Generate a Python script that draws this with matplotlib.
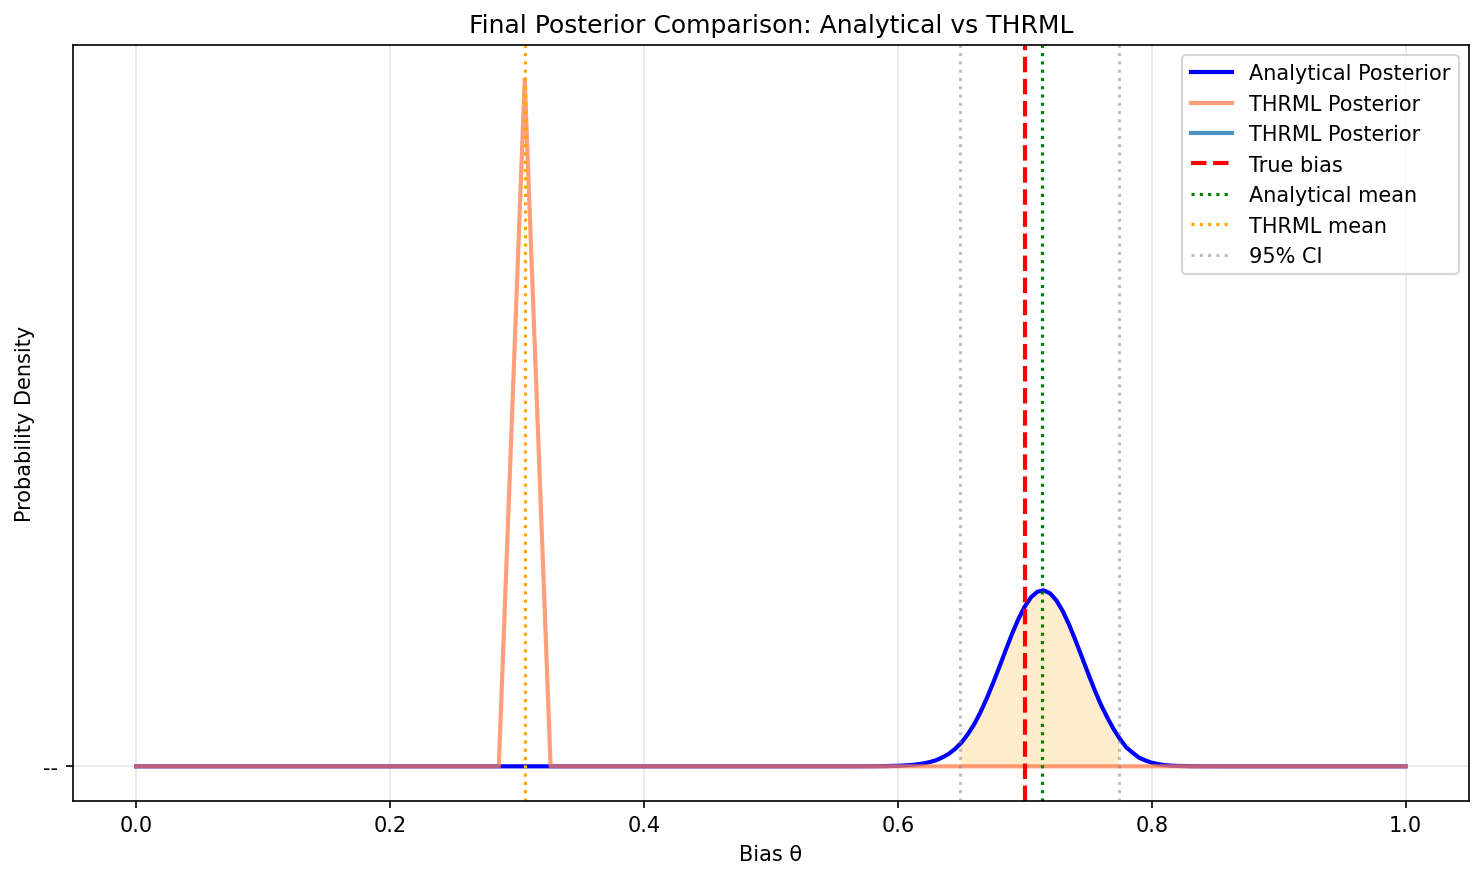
import numpy as np
import matplotlib
matplotlib.use("Agg")
import matplotlib.pyplot as plt

# ---- data ----
analytical_theta = [0.0, 0.55, 0.56, 0.57, 0.58, 0.59, 0.60, 0.605, 0.61, 0.615, 0.62, 0.625,
                    0.63, 0.635, 0.64, 0.645, 0.65, 0.655, 0.66, 0.665, 0.67, 0.675, 0.68,
                    0.685, 0.69, 0.695, 0.70, 0.705, 0.71, 0.715, 0.72, 0.725, 0.73, 0.735,
                    0.74, 0.745, 0.75, 0.755, 0.76, 0.765, 0.77, 0.775, 0.78, 0.785, 0.79,
                    0.795, 0.80, 0.805, 0.81, 0.815, 0.82, 0.83, 0.84, 0.85, 0.86, 1.0]
analytical_density = [0.0, 0.0, 0.001, 0.002, 0.005, 0.015, 0.04, 0.06, 0.09, 0.14, 0.20, 0.30,
                      0.43, 0.63, 0.88, 1.23, 1.68, 2.27, 2.97, 3.83, 4.83, 5.92, 7.08,
                      8.28, 9.44, 10.50, 11.39, 12.06, 12.45, 12.55, 12.33, 11.82, 11.06, 10.09,
                      8.98, 7.80, 6.61, 5.46, 4.40, 3.49, 2.66, 1.95, 1.35, 0.97, 0.62,
                      0.42, 0.26, 0.16, 0.09, 0.05, 0.03, 0.01, 0.003, 0.001, 0.0, 0.0]

thrml_theta = [0.0, 0.2857, 0.3061, 0.3265, 1.0]
thrml_density = [0.0, 0.0, 49.0, 0.0, 0.0]

true_bias = 0.70
analytical_mean = 0.7135
thrml_mean = 0.3061
ci_low, ci_high = 0.649, 0.774

# ---- figure ----
fig = plt.figure(figsize=(1484 / 150, 880 / 150), dpi=150)
ax = fig.add_axes([72.7 / 1484, 1 - 801.7 / 880, (1469 - 72.7) / 1484, (801.7 - 45.7) / 880])

ax.plot(analytical_theta, analytical_density, color="blue", lw=2, label="Analytical Posterior")
ax.plot(thrml_theta, thrml_density, color="coral", lw=2, alpha=0.75, label="THRML Posterior")
ax.plot([], [], color="C0", lw=2, alpha=0.8, label="THRML Posterior")

ax.axvline(true_bias, color="red", ls="--", lw=2, label="True bias")
ax.axvline(analytical_mean, color="green", ls=":", lw=1.5, label="Analytical mean")
ax.axvline(thrml_mean, color="orange", ls=":", lw=1.5, label="THRML mean")
ax.axvline(ci_low, color="gray", ls=":", lw=1.5, alpha=0.5, label="95% CI")
ax.axvline(ci_high, color="gray", ls=":", lw=1.5, alpha=0.5)

xa = np.asarray(analytical_theta)
ya = np.asarray(analytical_density)
inside = (xa > ci_low) & (xa < ci_high)
fx = np.concatenate([[ci_low], xa[inside], [ci_high]])
fy = np.concatenate([[np.interp(ci_low, xa, ya)], ya[inside], [np.interp(ci_high, xa, ya)]])
ax.fill_between(fx, fy, color="orange", alpha=0.2, lw=0)

ax.set_yticks([0])
ax.set_yticklabels(["--"])
ax.grid(True, alpha=0.3)
ax.set_xlabel("Bias θ")
ax.set_ylabel("Probability Density")
ax.set_title("Final Posterior Comparison: Analytical vs THRML")
ax.legend(loc="upper right")

fig.savefig("out.png", dpi=150)
